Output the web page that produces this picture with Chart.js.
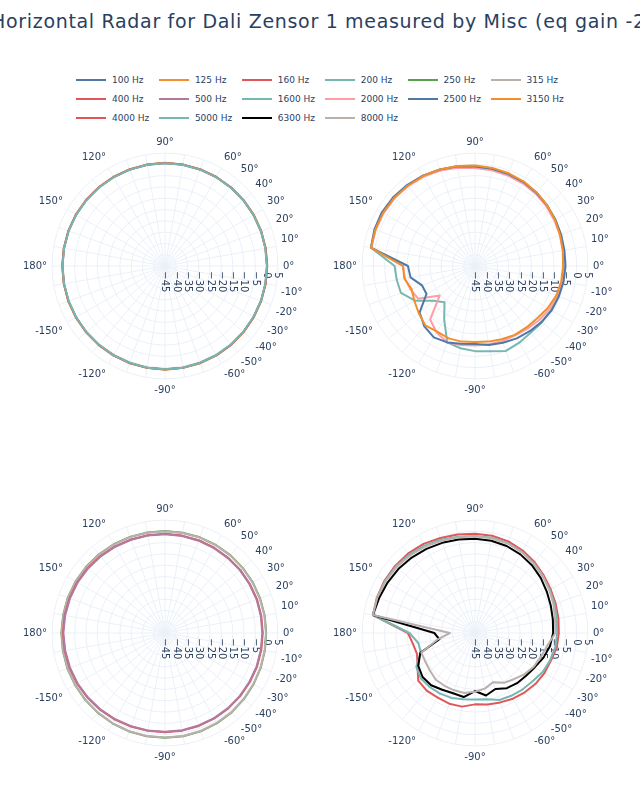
<!DOCTYPE html>
<html>
<head>
<meta charset="utf-8">
<script src="https://cdn.jsdelivr.net/npm/chart.js@4.4.1/dist/chart.umd.min.js"></script>
<style>
  body { margin: 0; width: 640px; height: 800px; overflow: hidden; background: #fff; position: relative;
         font-family: "DejaVu Sans", sans-serif; color: #2a3f5f; }
  #title { position: absolute; left: -9px; top: 10px; font-size: 19px; letter-spacing: 0.68px; line-height: 22px; white-space: nowrap; }
  .item { position: absolute; height: 12px; display: flex; align-items: center; font-size: 9px; white-space: nowrap; }
  .item span.swatch { display: inline-block; width: 30px; height: 2px; margin-right: 6px; }
  canvas { position: absolute; }
</style>
</head>
<body>
<div id="title">Horizontal Radar for Dali Zensor 1 measured by Misc (eq gain -2dB)</div>
<div id="legend"></div>
<canvas id="p1" width="300" height="300"></canvas>
<canvas id="p2" width="300" height="300"></canvas>
<canvas id="p3" width="300" height="300"></canvas>
<canvas id="p4" width="300" height="300"></canvas>
<script>
// angles, clockwise starting on the right (0°)
const angles = [0, -10, -20, -30, -40, -50, -60, -70, -80, -90, -100, -110, -120, -130, -140, -150, -160, -170,
                180, 170, 160, 150, 140, 130, 120, 110, 100, 90, 80, 70, 60, 50, 40, 30, 20, 10];
const shownAngles = [0, 10, 20, 30, 40, 50, 60, 90, 120, 150, 180, -150, -120, -90, -60, -50, -40, -30, -20, -10];

// dB values, same order as angles
const hz100 = [0.2,0.2,0.3,0.3,0.4,0.5,0.6,0.7,0.8,0.8,0.8,0.7,0.7,0.6,0.6,0.5,0.5,0.5,0.5,0.5,0.5,0.5,0.5,0.5,0.5,0.5,0.6,0.6,0.6,0.5,0.5,0.4,0.4,0.3,0.3,0.2];
const hz125 = [0.3,0.3,0.3,0.4,0.5,0.6,0.7,0.8,0.8,0.9,0.8,0.8,0.7,0.7,0.6,0.6,0.6,0.5,0.5,0.5,0.5,0.6,0.6,0.6,0.6,0.6,0.6,0.7,0.6,0.6,0.5,0.5,0.4,0.4,0.3,0.3];
const hz160 = [0.2,0.2,0.2,0.3,0.4,0.5,0.6,0.6,0.7,0.7,0.7,0.7,0.6,0.6,0.5,0.5,0.5,0.4,0.4,0.4,0.5,0.5,0.5,0.5,0.5,0.5,0.5,0.6,0.5,0.5,0.4,0.4,0.3,0.3,0.2,0.2];
const hz200 = [0.1,0.1,0.2,0.2,0.3,0.4,0.5,0.6,0.7,0.7,0.7,0.6,0.6,0.5,0.5,0.4,0.4,0.4,0.4,0.4,0.4,0.4,0.4,0.4,0.4,0.4,0.5,0.5,0.5,0.4,0.4,0.3,0.3,0.2,0.2,0.1];

const hz250 = [-0.2,-0.1,0.1,0.3,0.6,0.9,1.1,1.3,1.4,1.4,1.4,1.4,1.3,1.2,1.1,1.0,1.0,0.9,0.9,0.8,0.8,0.7,0.6,0.5,0.4,0.3,0.2,0.2,0.1,0.1,0.0,0.0,-0.1,-0.1,-0.2,-0.2];
const hz315 = [-0.3,-0.2,0.0,0.2,0.5,0.8,1.0,1.2,1.3,1.3,1.3,1.3,1.2,1.1,1.0,0.9,0.9,0.8,0.8,0.7,0.7,0.6,0.5,0.4,0.3,0.2,0.1,0.1,0.0,0.0,-0.1,-0.1,-0.2,-0.2,-0.3,-0.3];
const hz400 = [-1.7,-1.7,-1.6,-1.6,-1.5,-1.4,-1.3,-1.2,-1.1,-1.1,-1.0,-0.9,-0.7,-0.5,-0.3,-0.1,0.0,0.1,0.2,0.1,0.0,-0.1,-0.3,-0.5,-0.7,-0.9,-1.0,-1.1,-1.2,-1.3,-1.4,-1.5,-1.5,-1.6,-1.6,-1.7];
const hz500 = [-1.9,-1.9,-1.8,-1.8,-1.7,-1.6,-1.5,-1.4,-1.3,-1.3,-1.2,-1.1,-0.9,-0.7,-0.5,-0.3,-0.2,-0.1,0.0,-0.1,-0.2,-0.3,-0.5,-0.7,-0.9,-1.1,-1.2,-1.3,-1.4,-1.5,-1.6,-1.7,-1.7,-1.8,-1.8,-1.9];

const hz1600 = [-5.5,-5.5,-5.8,-6.0,-6.3,-6.5,-5.8,-5.0,-6.7,-7.3,-8.0,-9.0,-17.7,-24.0,-21.0,-14.3,-10.1,-9.8,-9.4,1.8,2.0,2.0,1.8,1.4,1.0,0.4,-0.2,-0.8,-1.2,-1.6,-2.0,-2.6,-3.3,-4.0,-4.7,-5.2];
const hz2000 = [-5.8,-5.8,-6.1,-6.8,-7.8,-8.8,-9.5,-9.6,-9.8,-9.8,-9.5,-9.0,-11.0,-14.1,-24.6,-16.0,-14.6,-13.5,-13.1,1.6,1.8,1.8,1.6,1.2,0.7,0.0,-0.8,-1.6,-2.0,-2.4,-2.7,-3.2,-3.8,-4.4,-5.0,-5.5];
const hz2500 = [-4.9,-5.2,-5.5,-5.8,-6.5,-7.3,-8.0,-8.8,-9.5,-10.5,-10.0,-9.0,-8.5,-10.1,-13.0,-20.2,-20.0,-16.0,-15.3,1.8,2.4,2.6,2.3,1.8,1.2,0.5,-0.1,-0.9,-1.3,-1.7,-2.1,-2.7,-3.3,-3.9,-4.4,-4.8];
const hz3150 = [-6.0,-6.2,-6.7,-7.8,-9.0,-9.5,-9.8,-10.5,-11.0,-11.3,-11.0,-10.9,-11.5,-10.7,-12.5,-14.0,-15.1,-13.2,-13.1,1.8,2.0,2.0,1.8,1.4,1.0,0.5,0.0,-0.5,-0.9,-1.3,-1.8,-2.5,-3.3,-4.1,-4.9,-5.5];

const hz4000 = [-7.9,-8.2,-9.2,-9.5,-10.0,-10.7,-11.4,-12.3,-12.9,-13.4,-11.9,-11.7,-12.0,-11.7,-12.2,-15.6,-17.7,-17.1,-15.3,0.9,1.2,1.3,1.2,1.0,0.6,-0.2,-0.7,-1.0,-1.3,-1.8,-2.8,-4.0,-5.3,-6.3,-7.0,-7.5];
const hz5000 = [-8.6,-8.9,-9.6,-10.4,-11.7,-12.3,-12.9,-13.4,-15.2,-15.6,-15.2,-14.4,-14.0,-13.8,-13.7,-15.0,-19.5,-19.5,-16.0,0.9,1.0,1.0,0.8,0.3,-0.3,-1.0,-1.7,-2.0,-2.2,-2.6,-3.5,-4.6,-5.8,-6.8,-7.5,-8.2];
const hz6300 = [-10.4,-11.3,-12.8,-14.5,-15.5,-16.0,-16.8,-18.6,-16.9,-19.3,-16.2,-16.6,-16.0,-14.8,-14.7,-16.0,-19.2,-29.0,-27.0,0.9,0.2,-0.3,-0.8,-1.4,-2.0,-2.5,-3.0,-3.3,-3.5,-4.0,-4.8,-5.8,-7.0,-8.3,-9.3,-10.0];
const hz8000 = [-9.4,-12.5,-14.0,-15.0,-16.5,-18.3,-19.5,-21.8,-20.0,-19.0,-18.0,-18.0,-18.0,-18.0,-19.0,-19.6,-19.7,-28.0,-33.9,0.9,1.0,0.8,0.4,-0.2,-0.8,-1.5,-2.0,-2.2,-2.4,-2.8,-3.6,-4.6,-5.8,-7.0,-8.0,-9.0];

const legendNames = ['100 Hz','125 Hz','160 Hz','200 Hz','250 Hz','315 Hz','400 Hz','500 Hz',
                     '1600 Hz','2000 Hz','2500 Hz','3150 Hz','4000 Hz','5000 Hz','6300 Hz','8000 Hz'];
const legendColors = ['#4e79a7','#f28e2b','#e15759','#76b7b2','#59a14f','#bab0ac','#e15759','#b07aa1',
                      '#76b7b2','#ff9da7','#4e79a7','#f28e2b','#e15759','#76b7b2','#000000','#bab0ac'];
const seriesData = [hz100, hz125, hz160, hz200, hz250, hz315, hz400, hz500,
                    hz1600, hz2000, hz2500, hz3150, hz4000, hz5000, hz6300, hz8000];

// which series go in which panel, and where the panel centre sits
const panels = [
  { id: 'p1', cx: 165, cy: 266, series: [0, 1, 2, 3] },
  { id: 'p3', cx: 165, cy: 633, series: [4, 5, 6, 7] },
  { id: 'p2', cx: 475, cy: 266, series: [8, 9, 10, 11] },
  { id: 'p4', cx: 475, cy: 633, series: [12, 13, 14, 15] }
];

const FONT = 'DejaVu Sans';
const TXT = '#2a3f5f';
const GRID = '#ebf0f8';

// legend (3 rows of 6)
const legend = document.getElementById('legend');
legendNames.forEach((name, i) => {
  const row = Math.floor(i / 6), col = i % 6;
  const d = document.createElement('div');
  d.className = 'item';
  d.style.left = (76 + col * 82.9) + 'px';
  d.style.top = (74 + row * 18.9) + 'px';
  d.innerHTML = '<span class="swatch" style="background:' + legendColors[i] + '"></span>' + name;
  legend.appendChild(d);
});

const tickFmt = (v) => (v < 0 ? '\u2212' + Math.abs(v) : String(v));

panels.forEach((p) => {
  const canvas = document.getElementById(p.id);
  // the label fitting pushes the radar centre 2px right of the canvas middle
  canvas.style.left = (p.cx - 152) + 'px';
  canvas.style.top = (p.cy - 150) + 'px';

  const datasets = p.series.map((s, k) => ({
    label: legendNames[s],
    data: seriesData[s],
    borderColor: legendColors[s],
    backgroundColor: legendColors[s],
    borderWidth: 2,
    fill: false,
    pointRadius: 0,
    order: p.series.length - k
  }));

  new Chart(canvas.getContext('2d'), {
    type: 'radar',
    data: { labels: angles.map(String), datasets: datasets },
    options: {
      responsive: false,
      animation: false,
      layout: { padding: 8 },
      plugins: { legend: { display: false }, tooltip: { enabled: false } },
      elements: { line: { tension: 0, borderJoinStyle: 'round' } },
      scales: {
        r: {
          min: -45,
          max: 5,
          startAngle: 90,
          ticks: {
            stepSize: 5,
            showLabelBackdrop: false,
            backdropPadding: 0,
            color: TXT,
            font: { family: FONT, size: 10 },
            callback: (v) => {
              const s = tickFmt(v);
              return '\u2007'.repeat(s.length + 2) + s;
            }
          },
          grid: { circular: true, color: GRID, lineWidth: 1 },
          angleLines: { color: GRID, lineWidth: 1 },
          pointLabels: {
            color: TXT,
            padding: 0,
            font: { family: FONT, size: 10 },
            callback: (label) => (shownAngles.includes(Number(label)) ? label + '°' : '')
          }
        }
      }
    }
  });
});
</script>
</body>
</html>
